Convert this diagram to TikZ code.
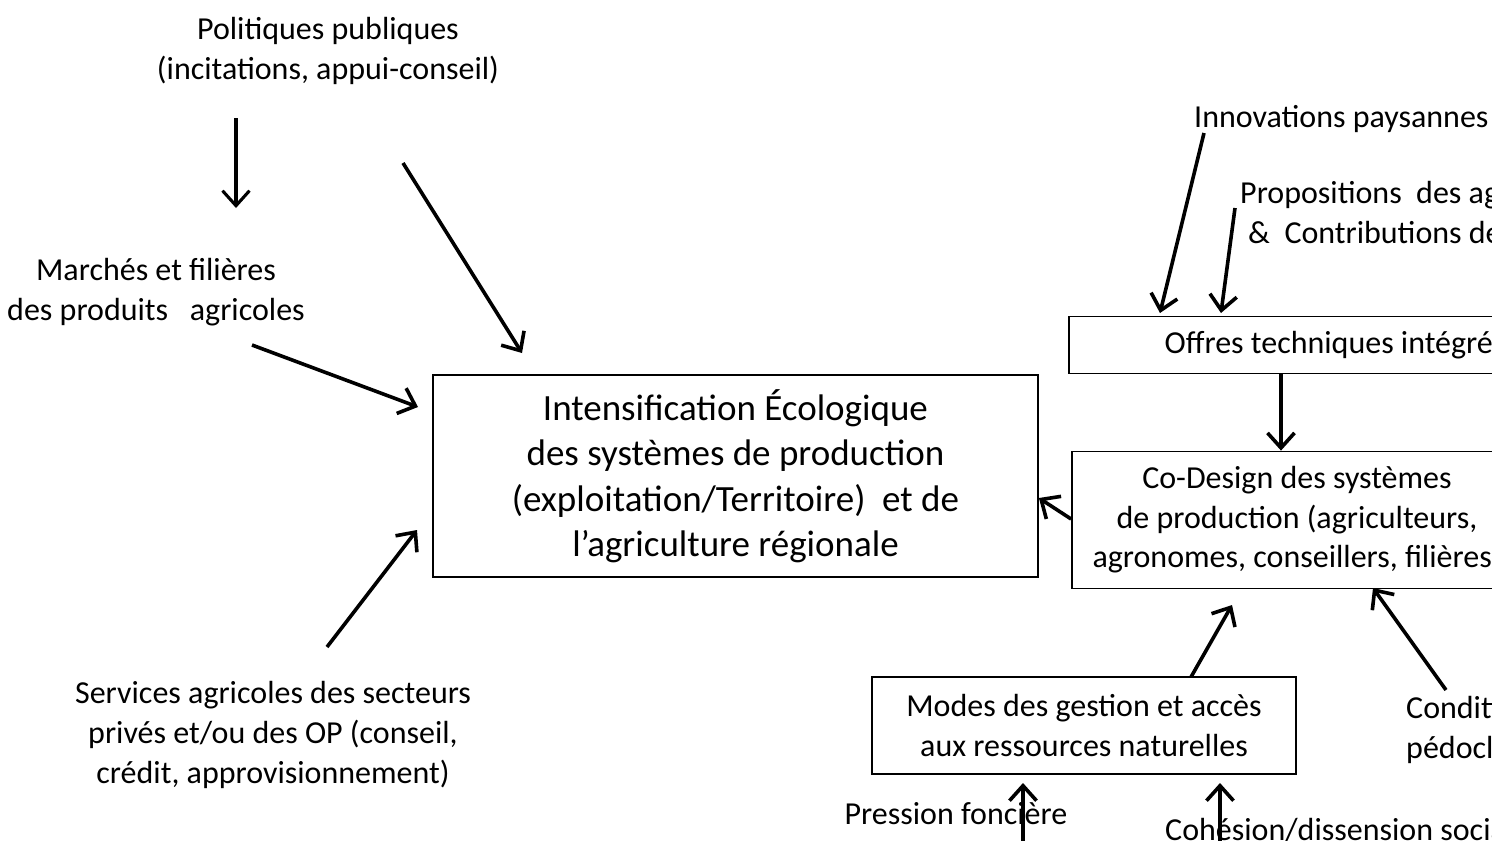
\documentclass[tikz,border=0pt]{standalone}
\usepackage{fontspec}
\setmainfont{Carlito}
\usetikzlibrary{arrows.meta,calc}
\begin{document}
\begin{tikzpicture}[x=1pt,y=-1pt,
  lbl/.style={inner sep=0pt,align=center,font=\fontsize{32}{40}\selectfont},
  lbll/.style={inner sep=0pt,align=left,font=\fontsize{32}{40}\selectfont},
  boxn/.style={draw,line width=1.8pt,inner sep=0pt,align=center,font=\fontsize{32}{39.5}\selectfont},
  mainbox/.style={draw,line width=1.8pt,inner sep=0pt,align=center,font=\fontsize{37}{45.5}\selectfont},
  arr/.style={line width=3.6pt,-{Straight Barb[length=15pt,width=27pt,line width=3.6pt]}},
  arrt/.style={line width=3.1pt,-{Straight Barb[length=15pt,width=27pt,line width=3.1pt]}}]
\useasboundingbox (0,0) rectangle (1492,841);
\clip (0,0) rectangle (1492,841);
\fill[white] (0,0) rectangle (1492,841);

% labels
\node[lbl] (pol) at (328,51) {Politiques publiques\\(incitations, appui-conseil)};
\node[lbl] (mar) at (156,292) {Marchés et filières\\des produits~~~agricoles};
\node[lbl] (ser) at (273,735) {Services agricoles des secteurs\\privés et/ou des OP (conseil,\\crédit, approvisionnement)};
\node[lbl,anchor=base west] (inn) at (1194,127) {Innovations paysannes};
\node[lbll,anchor=base west] (pro) at (1240,243) {Propositions~~des agronomes\\\hspace{8pt}\&~~Contributions des chercheurs};
\node[lbll,anchor=base west] (cond) at (1406,758) {Conditions\\pédoclimatiques};
\node[lbl,anchor=base] (pre) at (956,824) {Pression foncière};
\node[lbl,anchor=base west] (coh) at (1165,840) {Cohésion/dissension sociale};

% boxes
\node[mainbox,minimum width=605pt,minimum height=202pt] (main) at (735.5,476)
  {Intensification Écologique\\des systèmes de production\\(exploitation/Territoire)~~et de\\l’agriculture régionale};
\node[boxn,minimum width=548pt,minimum height=57pt] (off) at (1343,345) {Offres techniques intégrées};
\node[boxn,minimum width=450pt,minimum height=137pt] (cd) at (1297,520)
  {Co-Design des systèmes\\de production (agriculteurs,\\agronomes, conseillers, filières)};
\node[boxn,minimum width=424pt,minimum height=97pt] (mod) at (1084,725.5)
  {Modes des gestion et accès\\aux ressources naturelles};

% connector end points
\coordinate (a1s) at (236,118);  \coordinate (a1e) at (236,208);
\coordinate (a2s) at (403,163);  \coordinate (a2e) at (522,353);
\coordinate (a3s) at (252,345);  \coordinate (a3e) at (418,407);
\coordinate (a4s) at (327,647);  \coordinate (a4e) at (417,530);
\coordinate (a5s) at (1204,133); \coordinate (a5e) at (1160,313);
\coordinate (a6s) at (1235,208); \coordinate (a6e) at (1221,313);
\coordinate (a8s) at (cd.west |- 0,519);
\coordinate (a8e) at (main.east |- 0,498);
\coordinate (a9s) at (1191,677);  \coordinate (a9e) at (1232,605);
\coordinate (a10s) at (1446,690); \coordinate (a10e) at (1373,588);
\coordinate (a11s) at (1023,850); \coordinate (a11e) at (1023,783);
\coordinate (a12s) at (1220,850); \coordinate (a12e) at (1220,783);

% connectors
\draw[arrt] (a1s) -- (a1e);
\draw[arr] (a2s) -- (a2e);
\draw[arr] (a3s) -- (a3e);
\draw[arr] (a4s) -- (a4e);
\draw[arr] (a5s) -- (a5e);
\draw[arr] (a6s) -- (a6e);
\draw[arr] (off.south -| 1281,0) -- (cd.north -| 1281,0);
\draw[arr] (a8s) -- (a8e);
\draw[arr] (a9s) -- (a9e);
\draw[arr] (a10s) -- (a10e);
\draw[arr] (a11s) -- (a11e);
\draw[arr] (a12s) -- (a12e);
\end{tikzpicture}
\end{document}
